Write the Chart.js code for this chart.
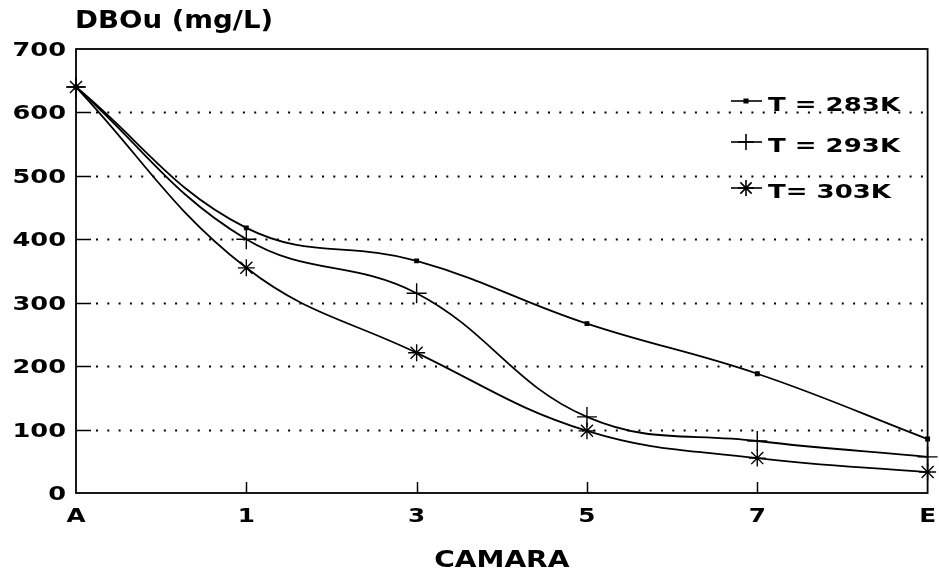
<!DOCTYPE html>
<html>
<head>
<meta charset="utf-8">
<script src="https://cdn.jsdelivr.net/npm/chart.js@4.4.1/dist/chart.umd.min.js"></script>
<style>
  html, body { margin: 0; padding: 0; background: #fff; }
  #wrap { width: 939px; height: 569px; }
</style>
</head>
<body>
<div id="wrap"><canvas id="dboChart" width="939" height="569"></canvas></div>
<script>
// Chambers along the reactor (A = inlet, E = outlet)
const camaras = ['A', '1', '3', '5', '7', 'E'];

// DBOu (mg/L) in each chamber, one array per temperature
const dbo283 = [640, 418, 366, 267, 188, 85];
const dbo293 = [640, 400, 315, 120, 82, 57];
const dbo303 = [640, 355, 221, 98, 55, 33];

const seriesLabels = ['T = 283K', 'T = 293K', 'T= 303K'];
const yTicks = [0, 100, 200, 300, 400, 500, 600, 700];

const FONT = '"DejaVu Sans", sans-serif';

// bold text, stretched horizontally like the old plotter font
function drawText(ctx, s, x, y, size, sx, align) {
  ctx.save();
  ctx.font = `bold ${size}px ${FONT}`;
  ctx.fillStyle = '#000';
  ctx.textBaseline = 'alphabetic';
  ctx.textAlign = align;
  ctx.translate(x, y);
  ctx.scale(sx, 1);
  ctx.fillText(s, 0, 0);
  ctx.restore();
}

// dotted horizontal grid with short solid ticks on the inside of the y axis
const gridPlugin = {
  id: 'dottedGrid',
  beforeDatasetsDraw(chart) {
    const { ctx, chartArea: a, scales: { y } } = chart;
    ctx.save();
    ctx.strokeStyle = '#000';
    yTicks.forEach(v => {
      if (v === yTicks[0] || v === yTicks[yTicks.length - 1]) return;
      const py = Math.round(y.getPixelForValue(v)) + 0.5;
      ctx.lineWidth = 1.5;
      ctx.setLineDash([]);
      ctx.beginPath();
      ctx.moveTo(a.left, py);
      ctx.lineTo(a.left + 15, py);
      ctx.stroke();
      ctx.lineWidth = 2;
      ctx.setLineDash([2, 9.3]);
      ctx.beginPath();
      ctx.moveTo(a.left + 20, py);
      ctx.lineTo(a.right, py);
      ctx.stroke();
    });
    ctx.restore();
  }
};

// frame, x ticks, tick labels, axis titles and legend
const framePlugin = {
  id: 'frameAndText',
  afterDatasetsDraw(chart) {
    const { ctx, chartArea: a, scales: { x, y } } = chart;
    ctx.save();
    ctx.strokeStyle = '#000';
    ctx.lineWidth = 1.8;
    ctx.strokeRect(a.left, a.top, a.right - a.left, a.bottom - a.top);

    ctx.lineWidth = 1.5;
    camaras.forEach((c, i) => {
      if (i === 0 || i === camaras.length - 1) return;
      const px = Math.round(x.getPixelForValue(i)) + 0.5;
      ctx.beginPath();
      ctx.moveTo(px, a.bottom);
      ctx.lineTo(px, a.bottom - 11);
      ctx.stroke();
    });
    ctx.restore();

    yTicks.forEach(v => {
      drawText(ctx, String(v), 66, y.getPixelForValue(v) + 7, 19, 1.35, 'right');
    });
    camaras.forEach((c, i) => {
      drawText(ctx, c, x.getPixelForValue(i), 522, 19, 1.3, 'center');
    });

    drawText(ctx, 'DBOu (mg/L)', 75, 28, 24, 1.15, 'left');
    drawText(ctx, 'CAMARA', (a.left + a.right) / 2, 567, 23, 1.22, 'center');

    // legend inside the plot, upper right
    const rows = [101, 142, 188];
    chart.data.datasets.forEach((ds, i) => {
      const ly = rows[i];
      ctx.save();
      ctx.strokeStyle = '#000';
      ctx.fillStyle = '#000';
      ctx.lineWidth = 1.6;
      ctx.beginPath();
      ctx.moveTo(731, ly);
      ctx.lineTo(762, ly);
      ctx.stroke();
      Chart.helpers.drawPoint(ctx, {
        pointStyle: ds.pointStyle,
        radius: ds.pointStyle === 'rect' ? 2.5 : 8,
        borderWidth: 1.4,
        rotation: 0
      }, 746, ly);
      ctx.restore();
      drawText(ctx, ds.label, 768, ly + 10, 20, 1.3, 'left');
    });
  }
};

const series = [dbo283, dbo293, dbo303];
const styles = [
  { pointStyle: 'rect', pointRadius: 2.5 },
  { pointStyle: 'cross', pointRadius: 10 },
  { pointStyle: 'star', pointRadius: 8.5 }
];

new Chart(document.getElementById('dboChart'), {
  type: 'line',
  data: {
    labels: camaras,
    datasets: series.map((data, i) => ({
      label: seriesLabels[i],
      data,
      borderColor: '#000',
      backgroundColor: '#000',
      borderWidth: 1.8,
      tension: 0.4,
      fill: false,
      clip: false,
      pointStyle: styles[i].pointStyle,
      pointRadius: styles[i].pointRadius,
      pointBorderWidth: 1.4,
      pointBorderColor: '#000',
      pointBackgroundColor: '#000'
    }))
  },
  options: {
    responsive: false,
    animation: false,
    devicePixelRatio: 1,
    layout: { padding: { left: 76, right: 11, top: 49, bottom: 76 } },
    scales: {
      x: { type: 'category', display: false, offset: false },
      y: { display: false, min: 0, max: 700 }
    },
    plugins: {
      legend: { display: false },
      tooltip: { enabled: false }
    }
  },
  plugins: [gridPlugin, framePlugin]
});
</script>
</body>
</html>
